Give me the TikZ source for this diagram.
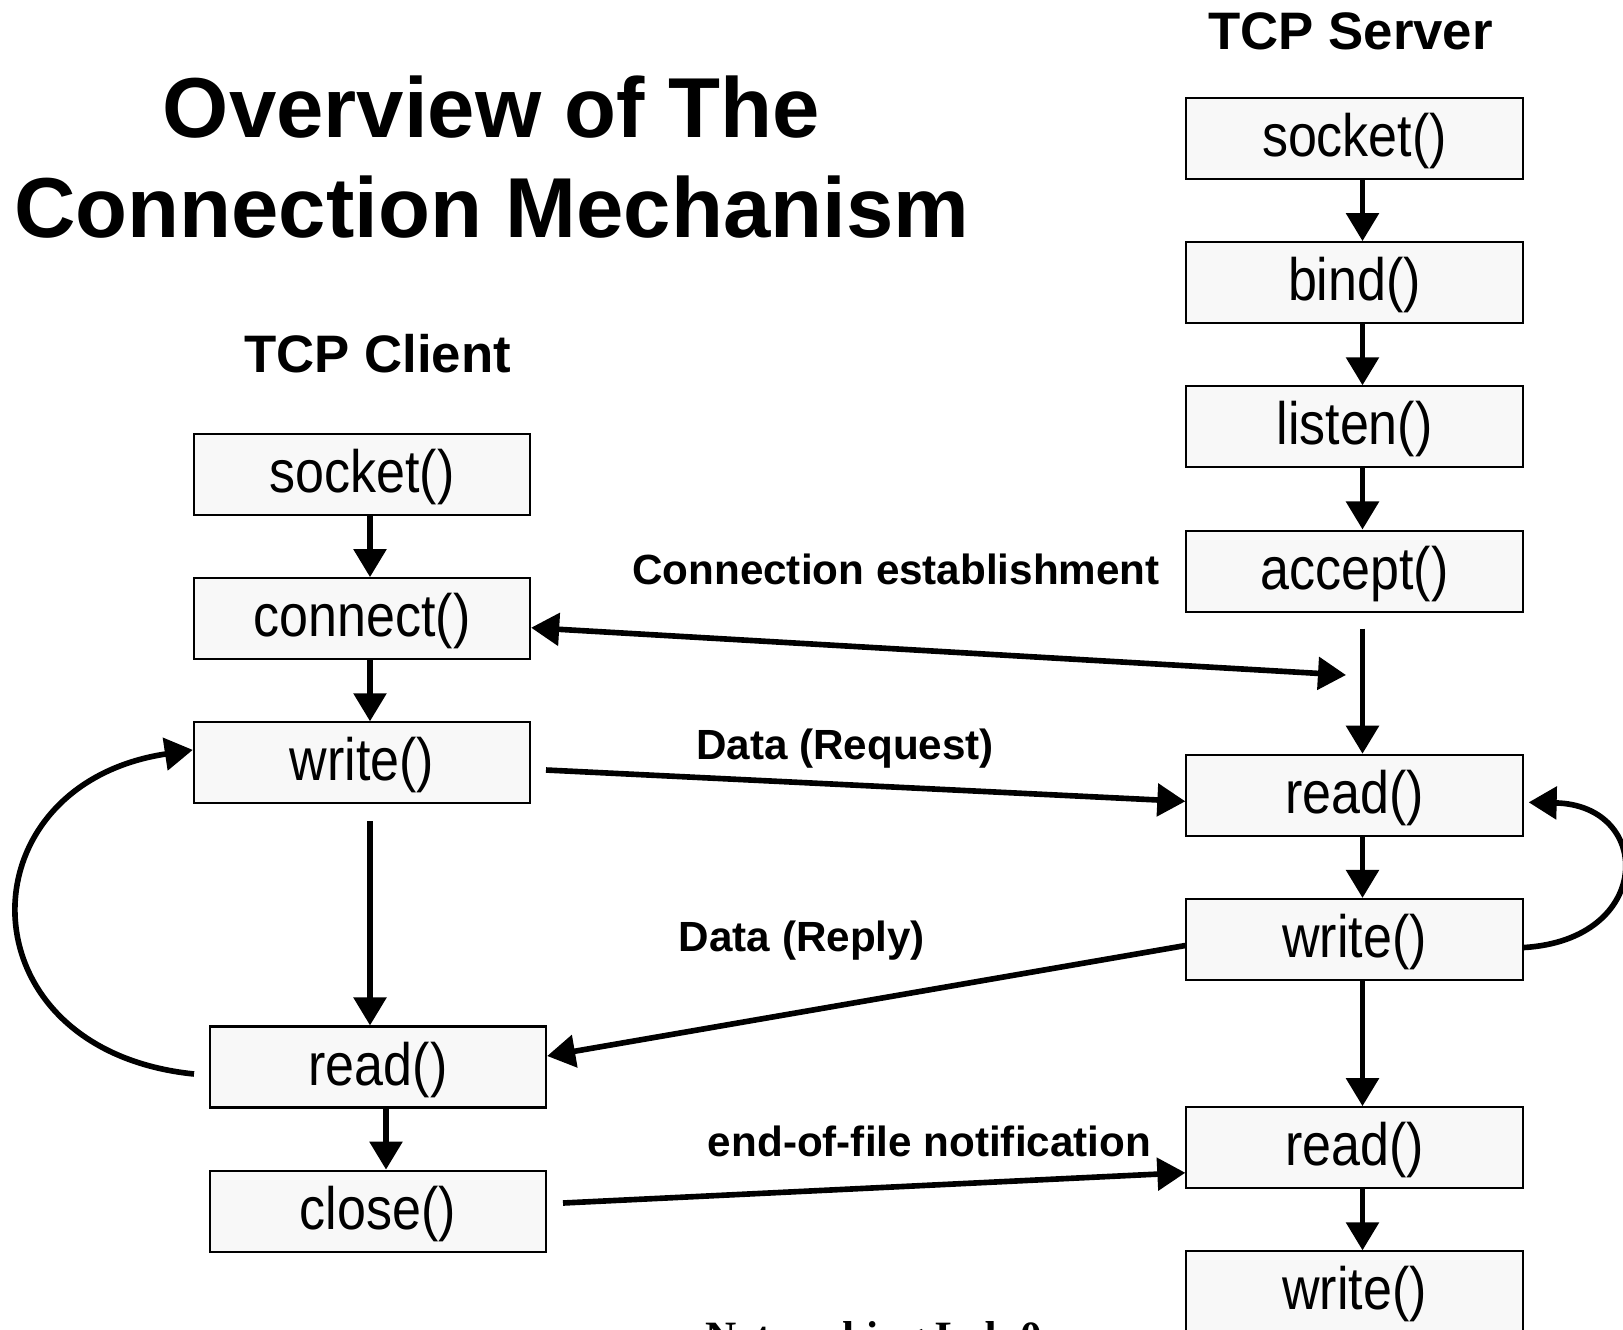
\documentclass[tikz,border=0pt]{standalone}
\usepackage{fontspec}
\setmainfont{Liberation Sans}
\newfontfamily\boxfont[FakeStretch=0.87]{Liberation Sans}
\newfontfamily\footfont{Liberation Serif}
\usepackage{tikz}
\usetikzlibrary{positioning, arrows.meta}
\definecolor{boxgray}{RGB}{248,248,248}
\tikzset{>={Triangle[length=0.28cm, width=0.32cm]},
         node distance=0.61cm,
         call/.style={draw, line width=0.6pt, fill=boxgray, minimum width=3.36cm,
                      minimum height=0.81cm, inner sep=0pt, text height=0.42cm, text depth=0.06cm,
                      font=\boxfont\fontsize{17}{20}\selectfont},
         flow/.style={->, line width=1.6pt},
         msg/.style={anchor=base, inner sep=0pt, font=\bfseries\fontsize{12}{14}\selectfont},
         head/.style={anchor=base, inner sep=0pt, font=\bfseries\fontsize{15}{18}\selectfont},
         headline/.style={anchor=base, inner sep=0pt, font=\bfseries\fontsize{24.2}{28}\selectfont},
         }

\begin{document}
\begin{tikzpicture}[x=0.01cm, y=-0.01cm]
    \useasboundingbox (0,0) rectangle (1623,1329);

    \node[headline] (t1) at (491.6,137.7) {Overview of The};
    \node[headline] (t2) at (491.6,237) {Connection Mechanism};
    \node[head] (hs) at (1350.7,49.7) {TCP Server};
    \node[head] (hc) at (377.8,372.6) {TCP Client};

    \node[call] (s1) at (1354.5,138.5) {socket()};
    \node[call, below=of s1] (s2) {bind()};
    \node[call, below=of s2] (s3) {listen()};
    \node[call, below=of s3] (s4) {accept()};
    \node[call, below=1.41cm of s4] (s5) {read()};
    \node[call, below=of s5] (s6) {write()};
    \node[call, below=1.25cm of s6] (s7) {read()};
    \node[call, below=of s7] (s8) {write()};

    \node[call] (c1) at (362,474.5) {socket()};
    \node[call, below=of c1] (c2) {connect()};
    \node[call, below=of c2] (c3) {write()};
    \node[call] (c4) at (378,1067) {read()};
    \node[call, below=of c4] (c5) {close()};

    \foreach \a/\b in {s1/s2, s2/s3, s3/s4, s5/s6, s6/s7, s7/s8, c1/c2, c2/c3, c4/c5}
        \draw[flow] ([xshift=0.08cm]\a.south) -- ([xshift=0.08cm]\b.north);
    \draw[flow] ([xshift=0.08cm, yshift=-0.17cm]c3.south) -- ([xshift=0.08cm]c3.south |- c4.north);
    \draw[flow] ([xshift=0.08cm, yshift=-0.16cm]s4.south) -- ([xshift=0.08cm]s5.north);

    \coordinate (est) at (1346,675);
    \coordinate (req) at (546,770);
    \coordinate (eof) at (563,1203);
    \coordinate (back) at (194,1074);

    \draw[flow, <->] ([yshift=-0.09cm]c2.east) -- (est);
    \draw[flow] (req) -- ([yshift=-0.06cm]s5.west);
    \draw[flow] ([yshift=-0.06cm]s6.west) -- ([yshift=0.11cm]c4.east);
    \draw[flow] (eof) -- ([yshift=-0.25cm]s7.west);
    \draw[flow] (back) .. controls (-40,1050) and (-40,785) .. ([yshift=0.13cm]c3.west);
    \draw[flow] ([yshift=-0.08cm]s6.east) .. controls (1654,940) and (1654,805) .. ([xshift=0.05cm, yshift=-0.07cm]s5.east);

    \node[msg] (lest) at (896,584.8) {Connection establishment};
    \node[msg] (lreq) at (845,759.7) {Data (Request)};
    \node[msg] (lrep) at (802,951) {Data (Reply)};
    \node[msg] (leof) at (929.5,1156) {end-of-file notification};

    \node[anchor=base west, inner sep=0pt, font=\footfont\bfseries\fontsize{12.3}{15}\selectfont] (foot) at (705,1351) {Networking Lab 0};
\end{tikzpicture}
\end{document}
